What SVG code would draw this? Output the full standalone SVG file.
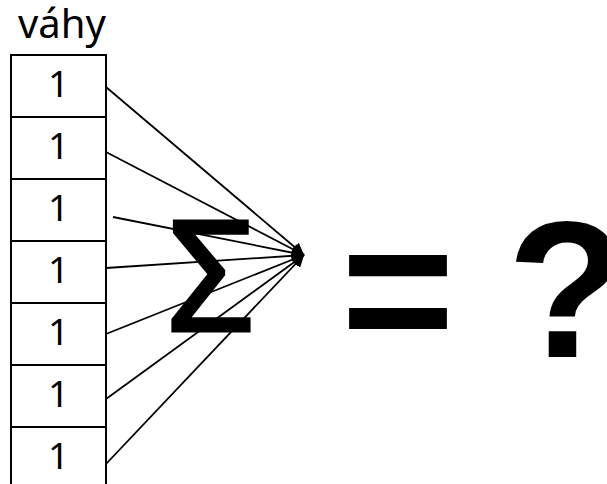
<svg xmlns="http://www.w3.org/2000/svg" width="607" height="484" viewBox="0 0 607 484">
<style>
.cell{fill:#fff;stroke:#000;stroke-width:2}
.num{font-family:"Noto Sans","Open Sans",sans-serif;font-size:37px;fill:#000;text-anchor:middle}
.lbl{font-family:"Noto Sans","Open Sans",sans-serif;font-size:40px;fill:#000}
.big{font-family:"Liberation Sans",Arial,sans-serif;font-weight:bold;font-size:195px;fill:#000}
.sig{font-family:"Noto Sans","Open Sans",sans-serif;font-size:154px;fill:#000;stroke:#000;stroke-width:3}
.edge{stroke:#000;stroke-width:1.8;fill:none;marker-end:url(#arr)}
</style>
<defs>
<marker id="arr" markerUnits="userSpaceOnUse" markerWidth="14" markerHeight="12" refX="12" refY="6" orient="auto">
<path d="M0,0 L12,6 L0,12 Z" fill="#000"/>
</marker>
</defs>
<text class="lbl" x="18" y="38">váhy</text>
<g id="w1"><rect class="cell" x="11" y="55" width="95" height="62"/><text class="num" x="58.5" y="97">1</text></g>
<g id="w2"><rect class="cell" x="11" y="117" width="95" height="62"/><text class="num" x="58.5" y="159">1</text></g>
<g id="w3"><rect class="cell" x="11" y="179" width="95" height="62"/><text class="num" x="58.5" y="221">1</text></g>
<g id="w4"><rect class="cell" x="11" y="241" width="95" height="62"/><text class="num" x="58.5" y="283">1</text></g>
<g id="w5"><rect class="cell" x="11" y="303" width="95" height="62"/><text class="num" x="58.5" y="345">1</text></g>
<g id="w6"><rect class="cell" x="11" y="365" width="95" height="62"/><text class="num" x="58.5" y="407">1</text></g>
<g id="w7"><rect class="cell" x="11" y="427" width="95" height="64"/><text class="num" x="58.5" y="469">1</text></g>
<g id="sum"><text class="sig" x="167" y="331">Σ</text></g>
<g id="connectors">
<line class="edge" x1="106" y1="87" x2="304" y2="255"/>
<line class="edge" x1="106" y1="152" x2="304" y2="255"/>
<line class="edge" x1="113" y1="217" x2="304" y2="255"/>
<line class="edge" x1="106" y1="268" x2="304" y2="255"/>
<line class="edge" x1="106" y1="334" x2="304" y2="255"/>
<line class="edge" x1="106" y1="399" x2="304" y2="255"/>
<line class="edge" x1="106" y1="464" x2="304" y2="255"/>
</g>
<g id="result">
<text class="big" x="341" y="357">=</text>
<text class="big" x="507" y="357">?</text>
</g>
</svg>
